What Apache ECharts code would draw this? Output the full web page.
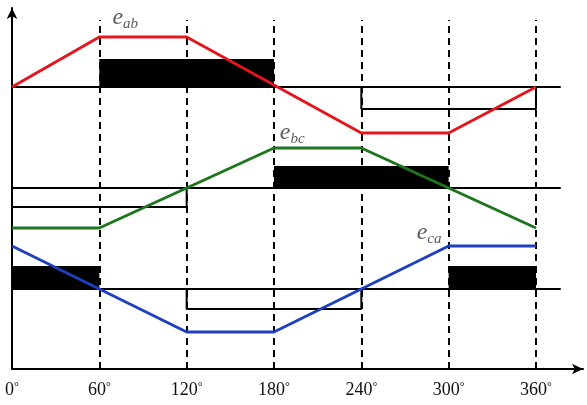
<!DOCTYPE html>
<html>
<head>
<meta charset="utf-8">
<script src="https://cdn.jsdelivr.net/npm/echarts@6/dist/echarts.min.js"></script>
<style>
html,body{margin:0;padding:0;background:#fff;}
#chart{width:587px;height:405px;}
</style>
</head>
<body>
<div id="chart"></div>
<script>
// ---- data (x in degrees, y in chart units) ----
var tickAngles = [0, 60, 120, 180, 240, 300, 360];
var eab = [[0, 282], [60, 332], [120, 332], [240, 236], [300, 236], [360, 282]];
var ebc = [[0, 141], [60, 141], [180, 221], [240, 221], [360, 141]];
var eca = [[0, 123], [120, 37], [180, 37], [300, 123], [360, 123]];
var baselines = [282, 181, 80];
var baselineEnd = 377;
var dashTop = 349;
// filled pulses: [x0, x1, yLow, yHigh]
var filledPulses = [[60, 180, 282, 310], [180, 300, 181, 203], [0, 60, 80, 103], [300, 360, 80, 103]];
// open pulses: [x0, x1, yBase, yLow]
var openPulses = [[240, 360, 282, 260], [0, 120, 181, 162], [120, 240, 80, 60]];
// labels: [x, y, subscript]
var waveLabels = [[69, 351, 'ab'], [184, 236, 'bc'], [278, 136, 'ca']];

var series = [];

// dashed verticals
series.push({
  type: 'line', data: [], silent: true,
  markLine: {
    symbol: 'none', silent: true, animation: false,
    label: {show: false},
    lineStyle: {color: '#000', width: 2, type: [7, 5]},
    data: tickAngles.filter(function (a) { return a > 0; }).map(function (a) {
      return [{coord: [a, 0]}, {coord: [a, dashTop]}];
    })
  }
});

// baselines
baselines.forEach(function (b) {
  series.push({
    type: 'line', data: [[0, b], [baselineEnd, b]], symbol: 'none', silent: true, z: 3,
    lineStyle: {color: '#000', width: 2}
  });
});

// filled pulses
series.push({
  type: 'custom', z: 2, silent: true,
  data: filledPulses,
  renderItem: function (params, api) {
    var p0 = api.coord([api.value(0), api.value(3)]);
    var p1 = api.coord([api.value(1), api.value(2)]);
    return {type: 'rect', shape: {x: p0[0], y: p0[1], width: p1[0] - p0[0], height: p1[1] - p0[1]},
      style: {fill: '#000'}};
  }
});

// open pulses
openPulses.forEach(function (p) {
  series.push({
    type: 'line', symbol: 'none', silent: true, z: 3,
    data: [[p[0], p[2]], [p[0], p[3]], [p[1], p[3]], [p[1], p[2]]],
    lineStyle: {color: '#000', width: 2}
  });
});

// waveforms
[[eab, '#e3161d'], [ebc, '#1d761d'], [eca, '#1e3fbe']].forEach(function (w) {
  series.push({
    type: 'line', data: w[0], symbol: 'none', z: 5, silent: true,
    lineStyle: {color: w[1], width: 3}
  });
});

// wave labels
series.push({
  type: 'scatter', symbolSize: 0, z: 6, silent: true,
  data: waveLabels.map(function (l) { return {value: [l[0], l[1]], sub: l[2]}; }),
  label: {
    show: true, position: 'inside', align: 'left', verticalAlign: 'middle',
    formatter: function (p) { return '{e|e}{s|' + p.data.sub + '}'; },
    rich: {
      e: {fontFamily: 'Liberation Serif', fontStyle: 'italic', fontSize: 24, color: '#333'},
      s: {fontFamily: 'Liberation Serif', fontStyle: 'italic', fontSize: 15, color: '#333', padding: [13, 0, 0, 0]}
    }
  }
});

var chart = echarts.init(document.getElementById('chart'));
chart.setOption({
  animation: false,
  backgroundColor: '#fff',
  grid: {left: 12, right: 4, top: 8, bottom: 36},
  xAxis: {
    type: 'value', min: 0, max: 392.3, interval: 60,
    splitLine: {show: false}, axisTick: {show: false},
    axisLine: {lineStyle: {color: '#000', width: 2}, symbol: ['none', 'arrow'], symbolSize: [8, 11]},
    axisLabel: {
      margin: 12, showMaxLabel: false,
      formatter: function (v) { return (v % 60 === 0 && v <= 360) ? v + '{d|°}' : ''; },
      fontFamily: 'Liberation Serif', fontSize: 18, color: '#111',
      rich: {d: {fontFamily: 'Liberation Serif', fontSize: 12, color: '#111', padding: [0, 0, 7, 0]}}
    }
  },
  yAxis: {
    type: 'value', min: 0, max: 361,
    splitLine: {show: false}, axisTick: {show: false}, axisLabel: {show: false},
    axisLine: {show: true, lineStyle: {color: '#000', width: 2}, symbol: ['none', 'arrow'], symbolSize: [8, 11]}
  },
  series: series
});
</script>
</body>
</html>
